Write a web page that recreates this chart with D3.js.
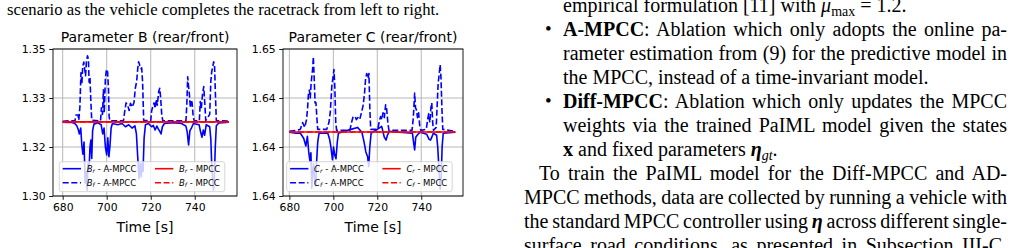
<!DOCTYPE html>
<html>
<head>
<meta charset="utf-8">
<script src="https://cdn.jsdelivr.net/npm/d3@7"></script>
<style>
body{margin:0;background:#fff;}
svg{display:block;}
</style>
</head>
<body>
<svg id="fig" width="1020" height="248"></svg>
<script>
//time axis ticks (s), shared by both panels
const timeTicks = [680, 700, 720, 740];

//parameter B, tick values and the labels printed next to them
const bTicks = [1.305, 1.32, 1.335, 1.35];
const bTickLabels = ["1.30", "1.32", "1.33", "1.35"];
//[time, value]
const bRearAmpcc = [[680,1.3276],[682,1.3275],[684,1.3276],[685.5,1.3272],[686.4,1.3265],[687,1.3255],[687.6,1.3240],[688.2,1.3258],[688.7,1.3206],[689.2,1.3178],[689.7,1.3215],[690.2,1.3089],[690.6,1.3125],[691.1,1.3068],[691.5,1.3150],[692.0,1.3130],[692.4,1.3200],[692.8,1.3221],[693.2,1.3165],[693.6,1.3250],[694.2,1.3270],[696,1.3274],[697.5,1.3268],[698.2,1.3240],[698.8,1.3258],[699.4,1.3200],[700.0,1.3176],[700.5,1.3228],[701.0,1.3170],[701.5,1.3205],[702.0,1.3258],[702.6,1.3272],[705,1.3268],[707,1.3272],[708.5,1.3262],[710,1.3268],[711.5,1.3258],[712.8,1.3265],[713.5,1.3240],[714.0,1.3180],[714.7,1.3104],[715.2,1.3150],[715.7,1.3108],[716.1,1.3150],[716.5,1.3125],[717.0,1.3228],[717.6,1.3268],[719,1.3272],[720.4,1.3262],[721.2,1.3266],[722.0,1.3252],[722.8,1.3264],[723.5,1.3255],[724.2,1.3247],[724.7,1.3240],[725.3,1.3262],[726.2,1.3272],[730,1.3274],[734,1.3272],[736.0,1.3264],[736.6,1.3245],[737.2,1.3206],[737.8,1.3250],[738.5,1.3258],[739.4,1.3272],[742.0,1.3268],[742.7,1.3245],[743.3,1.3230],[743.9,1.3252],[744.5,1.3236],[745.2,1.3268],[746.8,1.3262],[747.3,1.3225],[747.7,1.3150],[748.1,1.3105],[748.5,1.3068],[748.9,1.3100],[749.3,1.3195],[749.8,1.3265],[751,1.3274],[755.5,1.3276]];
const bFrontAmpcc = [[680,1.3279],[683,1.3280],[685.6,1.3281],[686.0,1.3298],[687.0,1.3298],[687.3,1.3282],[687.8,1.3320],[688.3,1.3427],[688.7,1.3392],[689.1,1.3446],[689.6,1.3460],[690.0,1.3438],[690.4,1.3418],[690.8,1.3465],[691.3,1.3479],[691.7,1.3468],[692.0,1.3398],[692.4,1.3412],[692.8,1.3340],[693.2,1.3282],[697.2,1.3280],[697.6,1.3320],[698.1,1.3300],[698.5,1.3375],[698.9,1.3305],[699.4,1.3410],[699.9,1.3438],[700.4,1.3430],[700.8,1.3380],[701.1,1.3292],[701.5,1.3280],[707.6,1.3280],[708.1,1.3305],[708.8,1.3335],[709.5,1.3328],[710.2,1.3312],[710.8,1.3334],[711.6,1.3322],[712.4,1.3336],[713.0,1.3380],[713.6,1.3400],[714.1,1.3440],[714.5,1.3461],[715.0,1.3450],[715.5,1.3440],[715.9,1.3442],[716.3,1.3400],[716.8,1.3282],[720.0,1.3280],[720.4,1.3310],[720.9,1.3323],[721.5,1.3335],[722.0,1.3318],[722.5,1.3346],[723.0,1.3328],[723.6,1.3369],[724.1,1.3380],[724.5,1.3352],[725.0,1.3300],[725.5,1.3280],[736.0,1.3280],[736.4,1.3330],[736.8,1.3415],[737.2,1.3385],[737.6,1.3359],[738.0,1.3320],[738.4,1.3345],[738.8,1.3335],[739.3,1.3292],[739.8,1.3280],[742.1,1.3280],[742.5,1.3339],[743.0,1.3318],[743.5,1.3360],[744.1,1.3385],[744.6,1.3330],[745.0,1.3281],[746.8,1.3300],[747.3,1.3400],[747.7,1.3430],[748.2,1.3446],[748.6,1.3461],[749.0,1.3450],[749.4,1.3360],[749.8,1.3281],[755.5,1.3279]];
const bRearMpcc = [[680,1.3277],[755.5,1.3277]];
const bFrontMpcc = [[680,1.3277],[755.5,1.3277]];

//parameter C
const cTicks = [1.635, 1.64, 1.645, 1.65];
const cTickLabels = ["1.64", "1.64", "1.64", "1.65"];
const cRearAmpcc = [[680,1.6415],[683,1.6414],[685,1.6414],[686.5,1.6409],[687.5,1.6401],[688.2,1.6411],[688.8,1.6395],[689.4,1.6385],[689.8,1.6394],[690.2,1.6358],[690.6,1.6375],[691.0,1.6383],[691.5,1.6365],[692.0,1.6360],[692.4,1.6385],[692.9,1.6405],[693.5,1.6414],[697.5,1.6414],[698.3,1.6408],[698.9,1.6400],[699.6,1.6387],[700.1,1.6400],[700.6,1.6392],[701.2,1.6388],[701.8,1.6405],[702.3,1.6414],[705,1.6416],[708,1.6418],[711,1.6420],[713,1.6415],[714,1.6405],[714.8,1.6395],[715.6,1.6390],[716.1,1.6380],[716.6,1.6400],[717.2,1.6414],[720,1.6418],[722,1.6421],[723.2,1.6410],[724.0,1.6407],[724.6,1.6412],[725.5,1.6416],[730,1.6415],[736.0,1.6414],[736.5,1.6405],[737.0,1.6397],[737.5,1.6410],[738.5,1.6413],[739.5,1.6415],[742.5,1.6413],[743.5,1.6408],[744.2,1.6407],[744.8,1.6410],[745.5,1.6414],[747.0,1.6412],[747.5,1.6400],[748.0,1.6380],[748.6,1.6357],[749.1,1.6370],[749.5,1.6400],[750.0,1.6414],[755.5,1.6415]];
const cFrontAmpcc = [[680,1.6416],[683,1.6417],[685,1.6418],[686,1.6425],[687,1.6420],[687.8,1.6428],[688.3,1.6440],[688.7,1.6455],[689.1,1.6458],[689.5,1.6450],[689.9,1.6465],[690.2,1.6472],[690.6,1.6480],[690.9,1.6492],[691.3,1.6470],[691.7,1.6445],[692.1,1.6445],[692.5,1.6430],[692.9,1.6418],[697.0,1.6418],[698.0,1.6425],[698.6,1.6435],[699.0,1.6450],[699.3,1.6462],[699.8,1.6470],[700.3,1.6479],[700.7,1.6460],[701.1,1.6425],[701.5,1.6417],[707.5,1.6417],[708.3,1.6425],[709.0,1.6431],[709.9,1.6431],[710.5,1.6428],[711.2,1.6430],[712.0,1.6428],[712.8,1.6435],[713.6,1.6443],[714.2,1.6455],[714.7,1.6470],[715.2,1.6475],[715.8,1.6470],[716.2,1.6475],[716.6,1.6440],[717.0,1.6418],[720.2,1.6418],[720.8,1.6425],[721.5,1.6431],[722.1,1.6428],[722.6,1.6435],[723.2,1.6430],[723.8,1.6443],[724.3,1.6438],[724.8,1.6425],[725.3,1.6417],[735.8,1.6417],[736.4,1.6430],[737.0,1.6455],[737.4,1.6440],[737.8,1.6438],[738.3,1.6430],[738.8,1.6435],[739.3,1.6422],[739.8,1.6417],[742.3,1.6418],[742.9,1.6428],[743.4,1.6434],[743.9,1.6425],[744.4,1.6440],[744.8,1.6445],[745.2,1.6425],[745.6,1.6417],[746.8,1.6420],[747.3,1.6445],[747.7,1.6465],[748.2,1.6475],[748.6,1.6484],[749.0,1.6470],[749.4,1.6440],[749.8,1.6418],[755.5,1.6416]];
const cRearMpcc = [[680,1.64153],[755.5,1.64153]];
const cFrontMpcc = [[680,1.64153],[755.5,1.64153]];

const fig = d3.select("#fig");
const axisFont = "DejaVu Sans";

drawPanel({
    name: "B", title: "Parameter B (rear/front)",
    left: 53, right: 237, top: 49, bottom: 196,
    xDomain: [675.6, 759.2], yDomain: [1.305, 1.35],
    yTicks: bTicks, yLabels: bTickLabels,
    series: [
        {data: bRearAmpcc, color: "blue", dash: null, sub: "r", who: "A-MPCC"},
        {data: bFrontAmpcc, color: "blue", dash: "6,2.6", sub: "f", who: "A-MPCC"},
        {data: bRearMpcc, color: "red", dash: null, sub: "r", who: "MPCC"},
        {data: bFrontMpcc, color: "red", dash: "6,2.6", sub: "f", who: "MPCC"}
    ],
    legendX: 59.3
});
drawPanel({
    name: "C", title: "Parameter C (rear/front)",
    left: 283, right: 463, top: 49, bottom: 196,
    xDomain: [677.1, 759.0], yDomain: [1.635, 1.65],
    yTicks: cTicks, yLabels: cTickLabels,
    series: [
        {data: cRearAmpcc, color: "blue", dash: null, sub: "r", who: "A-MPCC"},
        {data: cFrontAmpcc, color: "blue", dash: "6,2.6", sub: "f", who: "A-MPCC"},
        {data: cRearMpcc, color: "red", dash: null, sub: "r", who: "MPCC"},
        {data: cFrontMpcc, color: "red", dash: "6,2.6", sub: "f", who: "MPCC"}
    ],
    legendX: 286.7
});

function drawPanel(p){
    const x = d3.scaleLinear().domain(p.xDomain).range([p.left, p.right]);
    const y = d3.scaleLinear().domain(p.yDomain).range([p.bottom, p.top]);
    const g = fig.append("g");

    //grid
    g.selectAll(".gx").data(timeTicks).join("line")
        .attr("x1", d => x(d)).attr("x2", d => x(d))
        .attr("y1", p.top).attr("y2", p.bottom)
        .attr("stroke", "#b0b0b0").attr("stroke-width", 0.9);
    g.selectAll(".gy").data(p.yTicks).join("line")
        .attr("x1", p.left).attr("x2", p.right)
        .attr("y1", d => y(d)).attr("y2", d => y(d))
        .attr("stroke", "#b0b0b0").attr("stroke-width", 0.9);

    //lines, clipped to the frame
    fig.append("clipPath").attr("id", "clip" + p.name)
        .append("rect").attr("x", p.left).attr("y", p.top)
        .attr("width", p.right - p.left).attr("height", p.bottom - p.top);
    const line = d3.line().x(d => x(d[0])).y(d => y(d[1]));
    g.append("g").attr("clip-path", "url(#clip" + p.name + ")")
        .selectAll("path").data(p.series).join("path")
        .attr("d", d => line(d.data))
        .attr("fill", "none")
        .attr("stroke", d => d.color)
        .attr("stroke-width", 1.6)
        .attr("stroke-linejoin", "round")
        .attr("stroke-dasharray", d => d.dash);

    //axes
    const xa = g.append("g").attr("transform", "translate(0," + p.bottom + ")")
        .call(d3.axisBottom(x).tickValues(timeTicks).tickSize(3.8).tickPadding(3.5));
    const ya = g.append("g").attr("transform", "translate(" + p.left + ",0)")
        .call(d3.axisLeft(y).tickValues(p.yTicks).tickSize(3.8).tickPadding(3.5)
            .tickFormat((d, i) => p.yLabels[i]));
    for(let a of [xa, ya]){
        a.select(".domain").remove();
        a.selectAll("line").attr("stroke", "#000").attr("stroke-width", 0.9);
        a.selectAll("text").attr("fill", "#000")
            .style("font-family", axisFont).style("font-size", "10.8px");
    }

    //frame
    g.append("rect").attr("x", p.left).attr("y", p.top)
        .attr("width", p.right - p.left).attr("height", p.bottom - p.top)
        .attr("fill", "none").attr("stroke", "#000").attr("stroke-width", 0.9);

    //title and x label
    g.append("text").attr("x", (p.left + p.right) / 2).attr("y", 42)
        .attr("text-anchor", "middle")
        .style("font-family", axisFont).style("font-size", "14px")
        .text(p.title);
    g.append("text").attr("x", (p.left + p.right) / 2).attr("y", 232)
        .attr("text-anchor", "middle")
        .style("font-family", axisFont).style("font-size", "14px")
        .text("Time [s]");

    //legend, two columns
    const lg = g.append("g").attr("transform", "translate(" + p.legendX + ",161.7)");
    lg.append("rect").attr("width", 165.5).attr("height", 30).attr("rx", 2.5)
        .attr("fill", "#fff").attr("fill-opacity", 0.8)
        .attr("stroke", "#d0d0d0").attr("stroke-width", 0.9);
    p.series.forEach(function(s, i){
        const col = Math.floor(i / 2);
        const row = i % 2;
        const ox = col == 0 ? 3.4 : 95.7;
        const oy = row == 0 ? 7 : 21;
        lg.append("line").attr("x1", ox).attr("x2", ox + 18.3)
            .attr("y1", oy).attr("y2", oy)
            .attr("stroke", s.color).attr("stroke-width", 1.6)
            .attr("stroke-dasharray", s.dash);
        const t = lg.append("text").attr("x", ox + 24).attr("y", oy + 3)
            .style("font-family", axisFont).style("font-size", "8.5px");
        t.append("tspan").style("font-style", "italic").text(p.name);
        t.append("tspan").style("font-style", "italic").style("font-size", "6px")
            .attr("dy", 1.5).text(s.sub);
        t.append("tspan").attr("dy", -1.5).text(" - " + s.who);
    });
}

//surrounding page text
const captionLine = "scenario as the vehicle completes the racetrack from left to right.";
fig.append("text").attr("x", 7).attr("y", 15)
    .style("font-family", "Liberation Serif").style("font-size", "16.7px")
    .text(captionLine);

const bodyLines = [
    {x: 563, y: 12, w: 0, segs: [["empirical formulation [11] with ", "n"], ["\u03bc", "i"], ["max", "sub"], [" = 1.2.", "n"]]},
    {x: 563, y: 36, w: 444, bullet: true, segs: [["A-MPCC", "b"], [": Ablation which only adopts the online pa-", "n"]]},
    {x: 563, y: 60, w: 444, segs: [["rameter estimation from (9) for the predictive model in", "n"]]},
    {x: 563, y: 84, w: 0, segs: [["the MPCC, instead of a time-invariant model.", "n"]]},
    {x: 563, y: 108, w: 444, bullet: true, segs: [["Diff-MPCC", "b"], [": Ablation which only updates the MPCC", "n"]]},
    {x: 563, y: 132, w: 444, segs: [["weights via the trained PaIML model given the states", "n"]]},
    {x: 563, y: 156, w: 0, segs: [["x", "b"], [" and fixed parameters ", "n"], ["\u03b7", "bi"], ["gt", "isub"], [".", "n"]]},
    {x: 539, y: 180, w: 468, segs: [["To train the PaIML model for the Diff-MPCC and AD-", "n"]]},
    {x: 524, y: 204, w: 483, segs: [["MPCC methods, data are collected by running a vehicle with", "n"]]},
    {x: 524, y: 228, w: 483, segs: [["the standard MPCC controller using ", "n"], ["\u03b7", "bi"], [" across different single-", "n"]]},
    {x: 524, y: 252, w: 483, segs: [["surface road conditions, as presented in Subsection III-C.", "n"]]}
];

for(let ln of bodyLines){
    if(ln.bullet){
        fig.append("text").attr("x", 545).attr("y", ln.y - 1)
            .style("font-family", "Liberation Serif").style("font-size", "19px")
            .text("\u2022");
    }
    const t = fig.append("text").attr("x", ln.x).attr("y", ln.y)
        .style("font-family", "Liberation Serif").style("font-size", "20px")
        .style("white-space", "pre");
    let shifted = 0;
    for(let s of ln.segs){
        const sp = t.append("tspan").text(s[0]);
        const isSub = s[1] == "sub" || s[1] == "isub";
        if(s[1] == "b" || s[1] == "bi") sp.style("font-weight", "bold");
        if(s[1] == "i" || s[1] == "bi" || s[1] == "isub") sp.style("font-style", "italic");
        if(isSub){
            sp.style("font-size", "14px").attr("dy", 4);
            shifted = 4;
        } else if(shifted){
            sp.attr("dy", -shifted);
            shifted = 0;
        }
    }
    //stretch the word gaps so the line fills its column
    if(ln.w){
        const natural = t.node().getComputedTextLength();
        const gaps = (t.text().match(/ /g) || []).length;
        if(gaps) t.style("word-spacing", ((ln.w - natural) / gaps) + "px");
    }
}
</script>
</body>
</html>
